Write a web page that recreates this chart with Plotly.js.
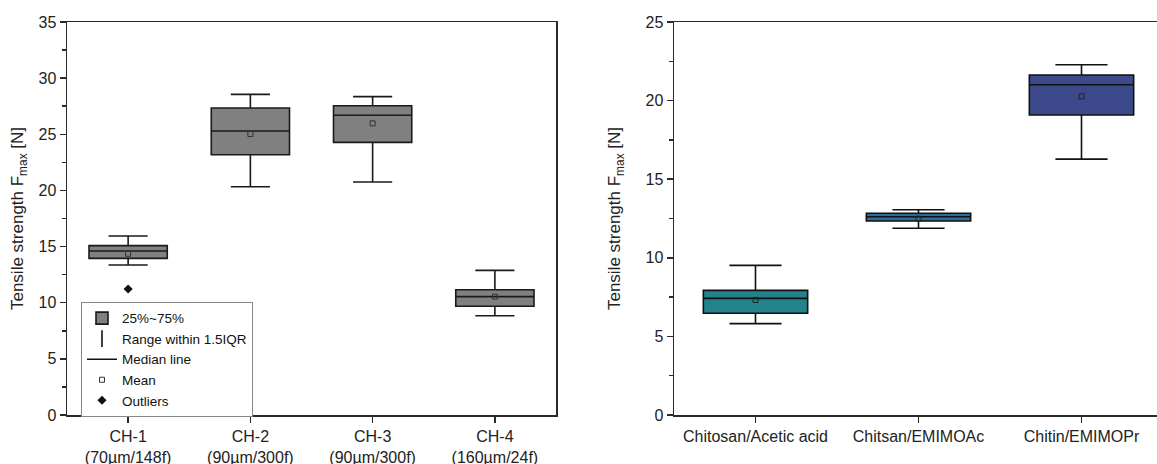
<!DOCTYPE html>
<html>
<head>
<meta charset="utf-8">
<script src="https://cdn.plot.ly/plotly-3.0.1.min.js"></script>
<style>html,body{margin:0;padding:0;background:#fff;}#chart{width:1157px;height:464px;}</style>
</head>
<body>
<div id="chart"></div>
<script>
// ---- Left chart data (CH samples) ----
const leftCats = ['CH-1', 'CH-2', 'CH-3', 'CH-4'];
const leftTickText = ['CH-1<br>(70µm/148f)', 'CH-2<br>(90µm/300f)', 'CH-3<br>(90µm/300f)', 'CH-4<br>(160µm/24f)'];
const leftLower = [13.36, 20.33, 20.75, 8.84];
const leftQ1 = [13.95, 23.18, 24.28, 9.68];
const leftMedian = [14.6, 25.29, 26.7, 10.54];
const leftQ3 = [15.08, 27.34, 27.54, 11.16];
const leftUpper = [15.94, 28.55, 28.35, 12.88];
const leftMean = [14.36, 25.02, 25.97, 10.54];
const outlierCats = ['CH-1'];
const outlierValues = [11.22];

// ---- Right chart data (solvent systems) ----
const rightCats = ['Chitosan/Acetic acid', 'Chitsan/EMIMOAc', 'Chitin/EMIMOPr'];
const rightLower = [5.81, 11.88, 16.28];
const rightQ1 = [6.47, 12.34, 19.08];
const rightMedian = [7.42, 12.61, 21.01];
const rightQ3 = [7.93, 12.83, 21.63];
const rightUpper = [9.52, 13.06, 22.28];
const rightMean = [7.32, 12.49, 20.27];
const rightColors = ['#22838a', '#2d6c97', '#3c4a8b'];

const FONT = 'Liberation Sans, Arial, sans-serif';
const AX = '#2a2a2a';

const traces = [];

traces.push({
  type: 'box', name: '25%~75%', xaxis: 'x', yaxis: 'y',
  x: leftCats, q1: leftQ1, median: leftMedian, q3: leftQ3,
  lowerfence: leftLower, upperfence: leftUpper,
  fillcolor: '#808080', line: {color: '#1a1a1a', width: 1.6},
  width: 0.64, whiskerwidth: 0.5, boxpoints: false, showlegend: true,
  hoverinfo: 'skip'
});
traces.push({
  type: 'scatter', mode: 'markers', name: 'Range within 1.5IQR', xaxis: 'x', yaxis: 'y',
  x: [null], y: [null],
  marker: {symbol: 'line-ns-open', size: 12, color: '#111', line: {width: 1.6, color: '#111'}}
});
traces.push({
  type: 'scatter', mode: 'lines', name: 'Median line', xaxis: 'x', yaxis: 'y',
  x: [null], y: [null], line: {color: '#111', width: 1.6}
});
traces.push({
  type: 'scatter', mode: 'markers', name: 'Mean', xaxis: 'x', yaxis: 'y',
  x: leftCats, y: leftMean,
  marker: {symbol: 'square-open', size: 5, color: '#333', line: {width: 1, color: '#333'}}
});
traces.push({
  type: 'scatter', mode: 'markers', name: 'Outliers', xaxis: 'x', yaxis: 'y',
  x: outlierCats, y: outlierValues,
  marker: {symbol: 'diamond', size: 7, color: '#111'}
});

for (let i = 0; i < rightCats.length; i++) {
  traces.push({
    type: 'box', name: rightCats[i], xaxis: 'x2', yaxis: 'y2',
    x: [rightCats[i]], q1: [rightQ1[i]], median: [rightMedian[i]], q3: [rightQ3[i]],
    lowerfence: [rightLower[i]], upperfence: [rightUpper[i]],
    fillcolor: rightColors[i], line: {color: '#111', width: 1.6},
    width: 0.64, whiskerwidth: 0.5, boxpoints: false, showlegend: false,
    hoverinfo: 'skip'
  });
}
traces.push({
  type: 'scatter', mode: 'markers', name: 'Mean', xaxis: 'x2', yaxis: 'y2',
  x: rightCats, y: rightMean, showlegend: false,
  marker: {symbol: 'square-open', size: 5, color: '#222', line: {width: 1, color: '#222'}}
});

const W = 1157;
const tickFont = {family: FONT, size: 16, color: '#222'};
const titleFont = {family: FONT, size: 17, color: '#222'};

const layout = {
  width: 1157, height: 464,
  margin: {l: 0, r: 0, t: 22, b: 49},
  paper_bgcolor: '#fff', plot_bgcolor: '#fff',
  font: {family: FONT, color: '#222'},
  boxmode: 'overlay',
  showlegend: true,
  legend: {
    x: 81 / W, y: 0.288, xanchor: 'left', yanchor: 'top',
    bgcolor: '#fff', bordercolor: '#888', borderwidth: 1,
    font: {family: FONT, size: 13.5, color: '#111'},
    tracegroupgap: 0, itemclick: false, itemwidth: 30
  },
  xaxis: {
    domain: [67 / W, 556 / W], type: 'category', range: [-0.5, 3.5],
    categoryorder: 'array', categoryarray: leftCats,
    tickvals: leftCats, ticktext: leftTickText,
    showline: true, linecolor: AX, linewidth: 1.5, mirror: true,
    ticks: 'outside', ticklen: 6, tickwidth: 1.5, tickcolor: AX,
    showgrid: false, zeroline: false, tickfont: tickFont, fixedrange: true
  },
  yaxis: {
    domain: [0, 1], range: [0, 35], dtick: 5, tick0: 0,
    showline: true, linecolor: AX, linewidth: 1.5, mirror: true,
    ticks: 'outside', ticklen: 6, tickwidth: 1.5, tickcolor: AX,
    minor: {dtick: 2.5, ticks: 'outside', ticklen: 4, tickwidth: 1.5, tickcolor: AX, showgrid: false},
    showgrid: false, zeroline: false, tickfont: tickFont,
    title: {text: 'Tensile strength F<sub>max</sub> [N]', font: titleFont, standoff: 10},
    fixedrange: true
  },
  xaxis2: {
    domain: [674 / W, 1], type: 'category', anchor: 'y2',
    range: [-0.5, -0.5 + (W - 674) / 163],
    categoryorder: 'array', categoryarray: rightCats,
    showline: true, linecolor: AX, linewidth: 1.5, mirror: true,
    ticks: 'outside', ticklen: 6, tickwidth: 1.5, tickcolor: AX,
    showgrid: false, zeroline: false, tickfont: tickFont, fixedrange: true
  },
  yaxis2: {
    domain: [0, 1], range: [0, 25], dtick: 5, tick0: 0, anchor: 'x2',
    showline: true, linecolor: AX, linewidth: 1.5, mirror: false,
    ticks: 'outside', ticklen: 6, tickwidth: 1.5, tickcolor: AX,
    minor: {dtick: 2.5, ticks: 'outside', ticklen: 4, tickwidth: 1.5, tickcolor: AX, showgrid: false},
    showgrid: false, zeroline: false, tickfont: tickFont,
    title: {text: 'Tensile strength F<sub>max</sub> [N]', font: titleFont, standoff: 20},
    fixedrange: true
  }
};

Plotly.newPlot('chart', traces, layout, {displayModeBar: false, staticPlot: true});
</script>
</body>
</html>
